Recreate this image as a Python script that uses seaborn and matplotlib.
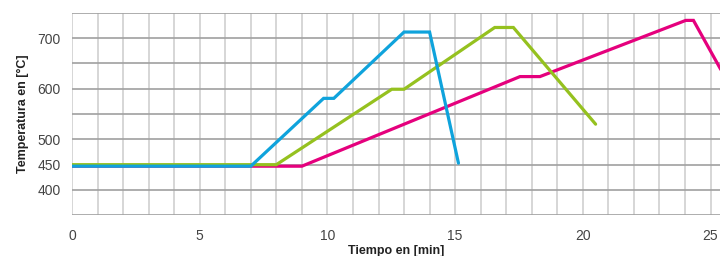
import pandas as pd
import numpy as np
import seaborn as sns
import matplotlib
matplotlib.use('Agg')
import matplotlib.pyplot as plt
from matplotlib.ticker import MultipleLocator, FuncFormatter

# curves (minutes, degrees C)
blue_t = [0, 7.0, 9.85, 10.25, 13.0, 14.0, 15.13]
blue_v = [447, 447, 581, 581, 712, 712, 453]
green_t = [0, 8.0, 12.52, 13.0, 16.55, 17.28, 20.5]
green_v = [450, 450, 599, 599, 721, 721, 530]
pink_t = [0, 9.0, 17.54, 18.32, 24.03, 24.33, 25.4]
pink_v = [447, 447, 624, 624, 735, 735, 638]

series = [('pink', pink_t, pink_v, '#e5007d'),
          ('green', green_t, green_v, '#95c11f'),
          ('blue', blue_t, blue_v, '#0fa3dc')]

y_labels = [400, 450, 500, 600, 700]

sns.set_style('white')
plt.rcParams['font.family'] = ['Liberation Sans', 'DejaVu Sans']

fig = plt.figure(figsize=(7.2, 2.56), dpi=100)
ax = fig.add_axes([0.1, 0.159, 0.9, 0.791])

for name, t, v, c in series:
    df = pd.DataFrame({'t': t, 'v': v})
    sns.lineplot(data=df, x='t', y='v', sort=False, color=c, lw=2.3,
                 ax=ax, zorder=3, solid_joinstyle='miter')

ax.set_xlim(0, 25.37)
ax.set_ylim(350, 750)
ax.xaxis.set_major_locator(MultipleLocator(1))
ax.yaxis.set_major_locator(MultipleLocator(50))
ax.xaxis.set_major_formatter(FuncFormatter(lambda x, p: f'{int(round(x))}' if round(x) % 5 == 0 else ''))
ax.yaxis.set_major_formatter(FuncFormatter(lambda y, p: f'{int(round(y))}' if int(round(y)) in y_labels else ''))

ax.grid(axis='x', color='#d0d0d0', lw=1.2, zorder=0)
ax.grid(axis='y', color='#a0a0a0', lw=1.2, zorder=0)
ax.tick_params(axis='x', length=4, width=1.2, color='#d0d0d0', pad=6,
               labelsize=10, labelcolor='#444444')
ax.tick_params(axis='y', length=4, width=1.2, color='#a0a0a0', pad=4,
               labelsize=10, labelcolor='#444444')
for s in ax.spines.values():
    s.set_visible(False)

lab_font = ['Liberation Sans Narrow', 'Liberation Sans', 'DejaVu Sans']
ax.set_xlabel('Tiempo en [min]', fontsize=9, fontweight='bold', family=lab_font,
              color='#222222', labelpad=1)
ax.set_ylabel('Temperatura en [°C]', fontsize=9, fontweight='bold', family=lab_font,
              color='#222222', labelpad=6)

fig.savefig('out.png', dpi=100)
